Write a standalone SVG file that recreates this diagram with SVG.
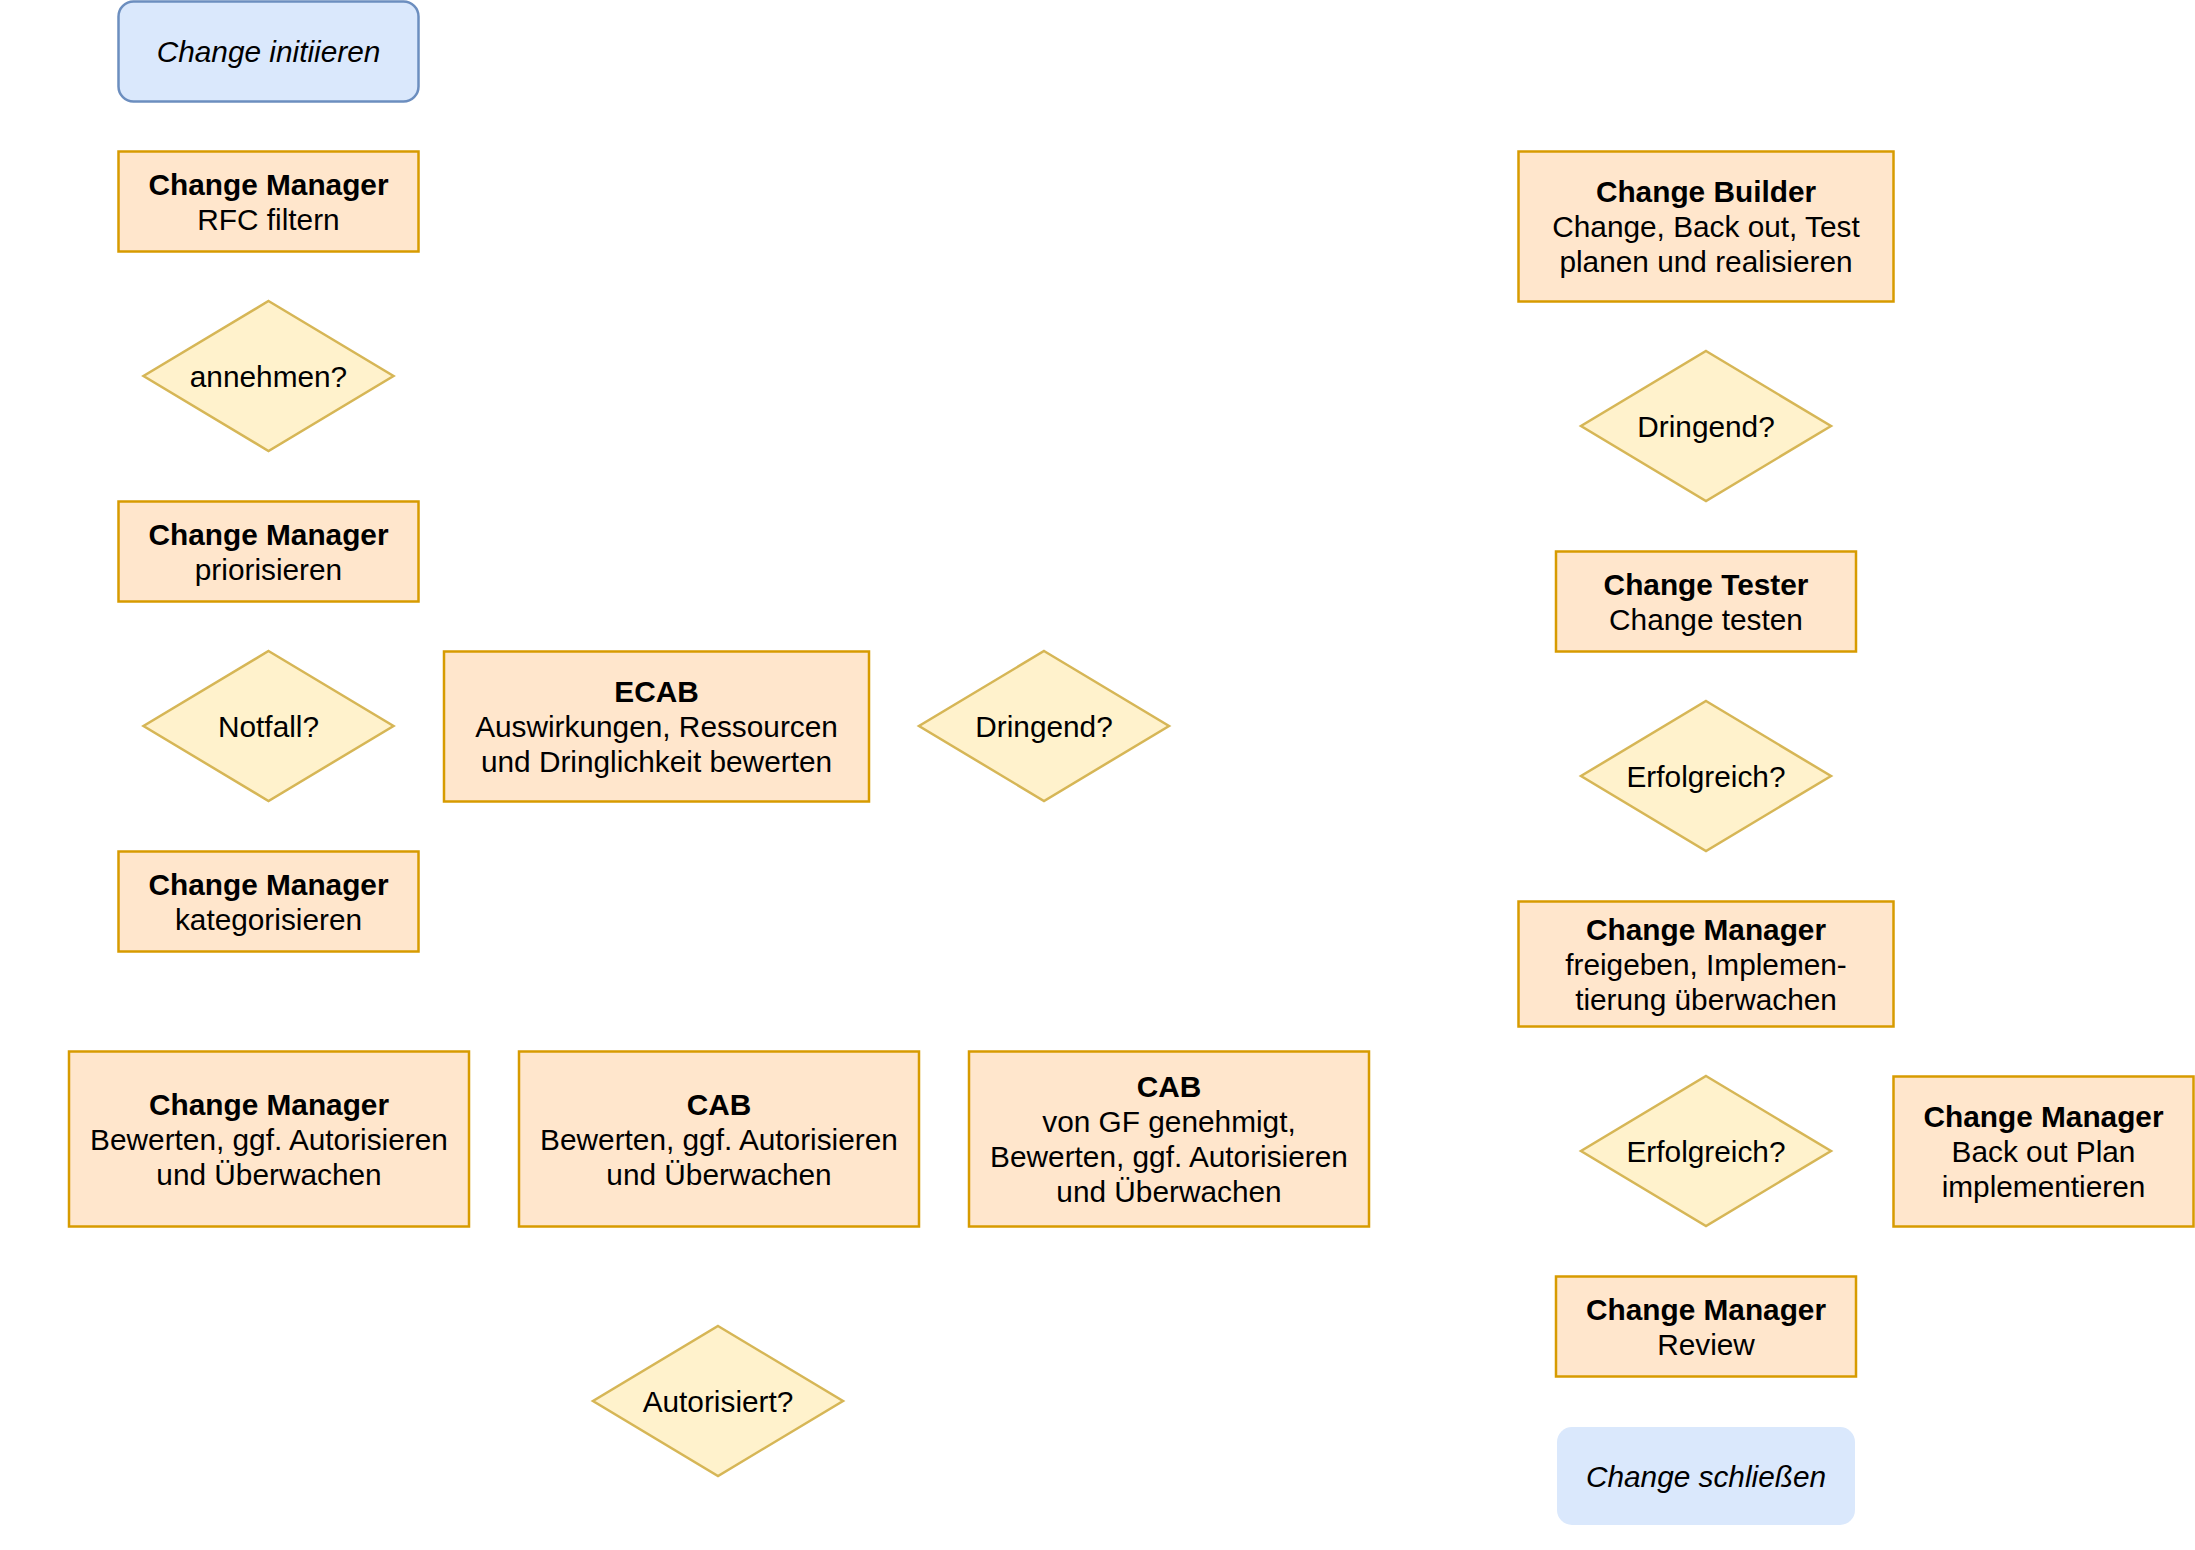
<svg xmlns="http://www.w3.org/2000/svg" width="2195" height="1550" viewBox="0 0 2195 1550">
<style>
text{font-family:"Liberation Sans",Arial,Helvetica,sans-serif;font-size:29.8px;fill:#000;text-anchor:middle}
.b{font-weight:bold}
.i{font-style:italic}
.proc{fill:#ffe6cc;stroke:#d79b00;stroke-width:2.5}
.dec{fill:#fff2cc;stroke:#d6b656;stroke-width:2.5}
.term{fill:#dae8fc;stroke:#6c8ebf;stroke-width:2.5}
.term2{fill:#dae8fc;stroke:none}
</style>
<rect width="2195" height="1550" fill="#fff"/>
<g id="connectors"/>
<g id="n-init"><rect class="term" x="118.5" y="1.5" width="300" height="100" rx="15"/><text class="i" x="268.5" y="62">Change initiieren</text></g>
<g id="n-rfc"><rect class="proc" x="118.5" y="151.5" width="300" height="100"/><text class="b" x="268.5" y="194.5">Change Manager</text><text x="268.5" y="229.5">RFC filtern</text></g>
<g id="n-annehmen"><polygon class="dec" points="268.5,301 393.5,376 268.5,451 143.5,376"/><text x="268.5" y="386.5">annehmen?</text></g>
<g id="n-prio"><rect class="proc" x="118.5" y="501.5" width="300" height="100"/><text class="b" x="268.5" y="544.5">Change Manager</text><text x="268.5" y="579.5">priorisieren</text></g>
<g id="n-notfall"><polygon class="dec" points="268.5,651 393.5,726 268.5,801 143.5,726"/><text x="268.5" y="736.5">Notfall?</text></g>
<g id="n-ecab"><rect class="proc" x="444" y="651.5" width="425" height="150"/><text class="b" x="656.5" y="702">ECAB</text><text x="656.5" y="737">Auswirkungen, Ressourcen</text><text x="656.5" y="772">und Dringlichkeit bewerten</text></g>
<g id="n-dringend1"><polygon class="dec" points="1044,651 1169,726 1044,801 919,726"/><text x="1044" y="736.5">Dringend?</text></g>
<g id="n-kat"><rect class="proc" x="118.5" y="851.5" width="300" height="100"/><text class="b" x="268.5" y="894.5">Change Manager</text><text x="268.5" y="929.5">kategorisieren</text></g>
<g id="n-cm-bew"><rect class="proc" x="69" y="1051.5" width="400" height="175"/><text class="b" x="269" y="1114.5">Change Manager</text><text x="269" y="1149.5">Bewerten, ggf. Autorisieren</text><text x="269" y="1184.5">und Überwachen</text></g>
<g id="n-cab1"><rect class="proc" x="519" y="1051.5" width="400" height="175"/><text class="b" x="719" y="1114.5">CAB</text><text x="719" y="1149.5">Bewerten, ggf. Autorisieren</text><text x="719" y="1184.5">und Überwachen</text></g>
<g id="n-cab2"><rect class="proc" x="969" y="1051.5" width="400" height="175"/><text class="b" x="1169" y="1097">CAB</text><text x="1169" y="1132">von GF genehmigt,</text><text x="1169" y="1167">Bewerten, ggf. Autorisieren</text><text x="1169" y="1202">und Überwachen</text></g>
<g id="n-autorisiert"><polygon class="dec" points="718,1326 843,1401 718,1476 593,1401"/><text x="718" y="1411.5">Autorisiert?</text></g>
<g id="n-builder"><rect class="proc" x="1518.5" y="151.5" width="375" height="150"/><text class="b" x="1706" y="202">Change Builder</text><text x="1706" y="237">Change, Back out, Test</text><text x="1706" y="272">planen und realisieren</text></g>
<g id="n-dringend2"><polygon class="dec" points="1706,351 1831,426 1706,501 1581,426"/><text x="1706" y="436.5">Dringend?</text></g>
<g id="n-tester"><rect class="proc" x="1556" y="551.5" width="300" height="100"/><text class="b" x="1706" y="594.5">Change Tester</text><text x="1706" y="629.5">Change testen</text></g>
<g id="n-erfolg1"><polygon class="dec" points="1706,701 1831,776 1706,851 1581,776"/><text x="1706" y="786.5">Erfolgreich?</text></g>
<g id="n-freigeben"><rect class="proc" x="1518.5" y="901.5" width="375" height="125"/><text class="b" x="1706" y="939.5">Change Manager</text><text x="1706" y="974.5">freigeben, Implemen-</text><text x="1706" y="1009.5">tierung überwachen</text></g>
<g id="n-erfolg2"><polygon class="dec" points="1706,1076 1831,1151 1706,1226 1581,1151"/><text x="1706" y="1161.5">Erfolgreich?</text></g>
<g id="n-backout"><rect class="proc" x="1893.5" y="1076.5" width="300" height="150"/><text class="b" x="2043.5" y="1127">Change Manager</text><text x="2043.5" y="1162">Back out Plan</text><text x="2043.5" y="1197">implementieren</text></g>
<g id="n-review"><rect class="proc" x="1556" y="1276.5" width="300" height="100"/><text class="b" x="1706" y="1319.5">Change Manager</text><text x="1706" y="1354.5">Review</text></g>
<g id="n-close"><rect class="term2" x="1557" y="1427" width="298" height="98" rx="15"/><text class="i" x="1706" y="1486.5">Change schließen</text></g>
</svg>
